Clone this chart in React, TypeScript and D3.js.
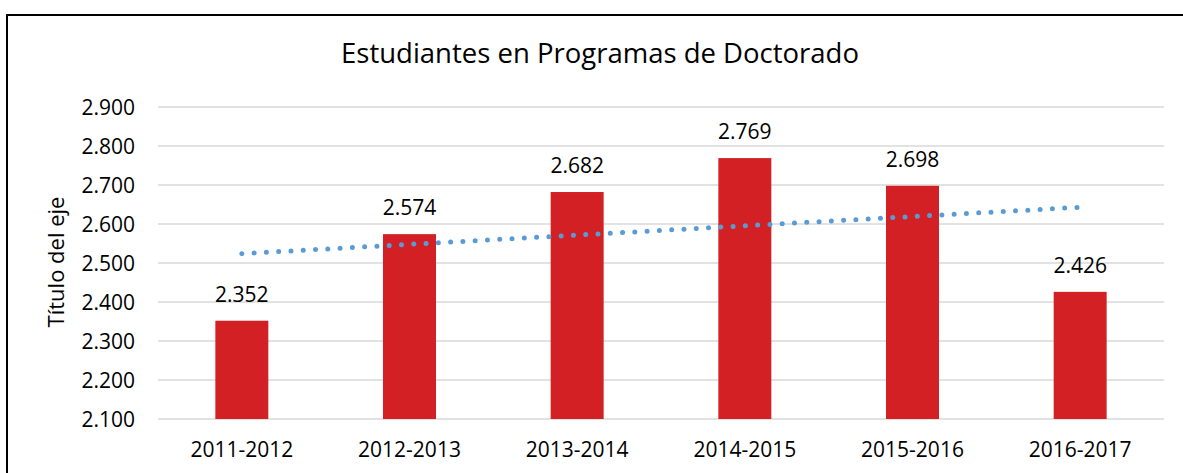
import React from "react";
import * as d3 from "d3";

const categories = ["2011-2012", "2012-2013", "2013-2014", "2014-2015", "2015-2016", "2016-2017"];
const values = [2352, 2574, 2682, 2769, 2698, 2426];
const yTicks = [2100, 2200, 2300, 2400, 2500, 2600, 2700, 2800, 2900];
// linear trendline endpoints (first / last category)
const trendValues = [2524, 2643];

const W = 1183;
const H = 473;
const FONT = "'Open Sans', 'Liberation Sans', sans-serif";
const fmt = (v: number) => d3.format(",")(v).replace(",", ".");

export default function App() {
  const x = d3.scaleBand<string>().domain(categories).range([158, 1164]).paddingInner(0.684).paddingOuter(0.342);
  const y = d3.scaleLinear().domain([2100, 2900]).range([419, 107]);
  const cx = (c: string) => (x(c) as number) + x.bandwidth() / 2;
  const trendLine = d3
    .line<number>()
    .x((_, i) => cx(categories[i === 0 ? 0 : categories.length - 1]))
    .y((d) => y(d));

  return (
    <svg width={W} height={H} style={{ position: "absolute", left: 0, top: 0, background: "#fff" }} fontFamily={FONT}>
      <rect x={0} y={0} width={W} height={H} fill="#fff" />
      <rect x={7} y={15} width={W + 20} height={H + 20} fill="none" stroke="#000" strokeWidth={2} />
      <text x={600} y={63} textAnchor="middle" fontSize={27.5} fill="#000">
        Estudiantes en Programas de Doctorado
      </text>
      {yTicks.map((t) => (
        <g key={t}>
          <line x1={158} x2={1164} y1={y(t)} y2={y(t)} stroke="#d9d9d9" strokeWidth={1.5} />
          <text x={135} y={y(t)} dy="0.36em" textAnchor="end" fontSize={21} fill="#000">
            {fmt(t)}
          </text>
        </g>
      ))}
      <text transform={`translate(64,262) rotate(-90)`} textAnchor="middle" fontSize={22} fill="#000">
        Título del eje
      </text>
      {categories.map((c, i) => (
        <g key={c}>
          <rect x={x(c)} y={y(values[i])} width={x.bandwidth()} height={y(2100) - y(values[i])} fill="#d32024" />
          <text x={cx(c)} y={y(values[i]) - 19} textAnchor="middle" fontSize={21} fill="#000">
            {fmt(values[i])}
          </text>
          <text x={cx(c)} y={457} textAnchor="middle" fontSize={21} fill="#000">
            {c}
          </text>
        </g>
      ))}
      <path
        d={trendLine(trendValues) as string}
        fill="none"
        stroke="#5b9bd5"
        strokeWidth={5}
        strokeLinecap="round"
        strokeDasharray="0 12.3"
      />
    </svg>
  );
}
